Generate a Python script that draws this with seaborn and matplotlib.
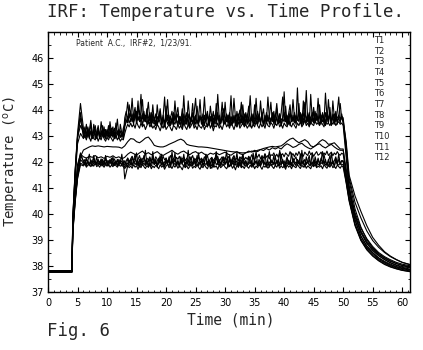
import matplotlib
matplotlib.use("Agg")
import matplotlib.pyplot as plt
from matplotlib.ticker import MultipleLocator
import pandas as pd
import seaborn as sns

# Sample clocks (minutes): warm-up, treatment plateau, cool-down
heat_minutes = [0, 4.05, 4.2, 4.6, 5.0, 5.5]
cool_minutes = [50.0, 50.5, 51.0, 52.0, 53.0, 54.0, 55.0, 56.0, 57.0, 58.0, 59.0, 60.0, 61.3]
# fast-logging probes: one reading every 15 s on the plateau
fine_plateau_minutes = [
    6.0, 6.25, 6.5, 6.75, 7.0, 7.25, 7.5, 7.75, 8.0, 8.25, 8.5, 8.75, 9.0, 9.25, 9.5, 9.75,
    10.0, 10.25, 10.5, 10.75, 11.0, 11.25, 11.5, 11.75, 12.0, 12.25, 12.5, 12.75, 13.0, 13.25, 13.5, 13.75,
    14.0, 14.25, 14.5, 14.75, 15.0, 15.25, 15.5, 15.75, 16.0, 16.25, 16.5, 16.75, 17.0, 17.25, 17.5, 17.75,
    18.0, 18.25, 18.5, 18.75, 19.0, 19.25, 19.5, 19.75, 20.0, 20.25, 20.5, 20.75, 21.0, 21.25, 21.5, 21.75,
    22.0, 22.25, 22.5, 22.75, 23.0, 23.25, 23.5, 23.75, 24.0, 24.25, 24.5, 24.75, 25.0, 25.25, 25.5, 25.75,
    26.0, 26.25, 26.5, 26.75, 27.0, 27.25, 27.5, 27.75, 28.0, 28.25, 28.5, 28.75, 29.0, 29.25, 29.5, 29.75,
    30.0, 30.25, 30.5, 30.75, 31.0, 31.25, 31.5, 31.75, 32.0, 32.25, 32.5, 32.75, 33.0, 33.25, 33.5, 33.75,
    34.0, 34.25, 34.5, 34.75, 35.0, 35.25, 35.5, 35.75, 36.0, 36.25, 36.5, 36.75, 37.0, 37.25, 37.5, 37.75,
    38.0, 38.25, 38.5, 38.75, 39.0, 39.25, 39.5, 39.75, 40.0, 40.25, 40.5, 40.75, 41.0, 41.25, 41.5, 41.75,
    42.0, 42.25, 42.5, 42.75, 43.0, 43.25, 43.5, 43.75, 44.0, 44.25, 44.5, 44.75, 45.0, 45.25, 45.5, 45.75,
    46.0, 46.25, 46.5, 46.75, 47.0, 47.25, 47.5, 47.75, 48.0, 48.25, 48.5, 48.75, 49.0, 49.25, 49.5, 49.75,
]
# slow-logging probes: one reading every 30 s on the plateau
coarse_plateau_minutes = [
    6.0, 6.5, 7.0, 7.5, 8.0, 8.5, 9.0, 9.5, 10.0, 10.5, 11.0,
    11.5, 12.0, 12.5, 13.0, 13.5, 14.0, 14.5, 15.0, 15.5, 16.0, 16.5,
    17.0, 17.5, 18.0, 18.5, 19.0, 19.5, 20.0, 20.5, 21.0, 21.5, 22.0,
    22.5, 23.0, 23.5, 24.0, 24.5, 25.0, 25.5, 26.0, 26.5, 27.0, 27.5,
    28.0, 28.5, 29.0, 29.5, 30.0, 30.5, 31.0, 31.5, 32.0, 32.5, 33.0,
    33.5, 34.0, 34.5, 35.0, 35.5, 36.0, 36.5, 37.0, 37.5, 38.0, 38.5,
    39.0, 39.5, 40.0, 40.5, 41.0, 41.5, 42.0, 42.5, 43.0, 43.5, 44.0,
    44.5, 45.0, 45.5, 46.0, 46.5, 47.0, 47.5, 48.0, 48.5, 49.0, 49.5,
]
fine_minutes = heat_minutes + fine_plateau_minutes + cool_minutes
coarse_minutes = heat_minutes + coarse_plateau_minutes + cool_minutes

# Probe temperatures (deg C): warm-up row, plateau rows, cool-down row
T1 = [37.80, 37.80, 39.90, 41.70, 43.10, 44.25,
      43.30, 43.05, 43.45, 42.95, 43.20, 43.60, 43.00, 43.25, 42.90, 43.15, 43.40, 42.95, 43.20, 43.05, 43.35, 42.90,
      43.25, 43.00, 43.55, 43.10, 42.95, 43.30, 43.05, 43.20, 42.90, 43.45, 43.10, 43.00, 43.70, 43.95, 43.55, 44.20,
      43.75, 44.45, 43.60, 43.90, 43.50, 44.10, 43.80, 44.60, 43.65, 43.95, 43.55, 43.85, 44.30, 43.60, 43.90, 43.50,
      43.70, 43.40, 44.20, 43.65, 43.85, 43.45, 43.75, 44.50, 43.55, 43.80, 43.40, 43.70, 43.95, 43.50, 44.35, 43.65,
      43.85, 43.45, 43.70, 43.55, 44.55, 43.60, 43.90, 43.40, 43.75, 43.60, 44.25, 43.50, 43.80, 43.45, 43.70, 44.40,
      43.55, 43.85, 43.40, 43.70, 43.95, 43.50, 44.15, 43.65, 43.35, 43.80, 43.55, 44.60, 43.70, 43.45, 43.90, 43.60,
      44.30, 43.55, 43.80, 43.40, 43.75, 43.60, 44.45, 43.70, 43.50, 43.85, 43.40, 43.70, 44.20, 43.55, 43.90, 43.45,
      43.75, 44.55, 43.60, 43.85, 43.45, 43.70, 43.95, 43.55, 44.35, 43.65, 43.40, 43.80, 43.60, 44.50, 43.70, 43.50,
      43.90, 43.45, 43.75, 44.25, 43.60, 43.85, 43.40, 43.70, 44.70, 43.55, 43.80, 43.45, 43.95, 43.60, 44.40, 43.70,
      43.50, 44.85, 43.65, 43.90, 43.45, 43.75, 44.30, 43.55, 43.85, 43.40, 44.60, 43.70, 43.50, 43.95, 43.60, 44.45,
      43.70, 43.45, 43.90, 43.55, 44.65, 43.75, 43.50, 43.85, 43.40, 44.35, 43.70, 43.55, 43.95, 44.50, 43.60, 43.75,
      43.70, 42.60, 41.30, 40.20, 39.50, 39.02, 38.70, 38.48, 38.32, 38.20, 38.10, 38.02, 37.95]
T2 = [37.78, 37.78, 39.80, 41.60, 43.00, 43.90,
      43.10, 43.35, 42.95, 43.25, 43.05, 43.50, 42.90, 43.20, 43.40, 43.00, 43.30, 42.95, 43.55, 43.10, 42.95, 43.25,
      43.05, 43.40, 42.95, 43.20, 43.35, 42.90, 43.15, 43.65, 43.00, 43.20, 42.95, 43.30, 43.45, 43.80, 44.30, 43.70,
      43.95, 43.55, 43.85, 44.10, 43.50, 43.75, 43.60, 43.95, 44.40, 43.55, 43.80, 43.45, 43.70, 43.90, 43.50, 44.20,
      43.55, 43.85, 43.45, 43.70, 44.05, 43.50, 43.80, 43.35, 43.65, 44.40, 43.55, 43.75, 43.45, 43.90, 43.60, 43.80,
      44.10, 43.50, 43.75, 43.35, 43.85, 43.60, 43.45, 44.35, 43.70, 43.55, 43.90, 43.40, 43.65, 44.15, 43.55, 43.80,
      43.45, 43.70, 44.50, 43.60, 43.85, 43.40, 43.75, 43.55, 43.95, 43.45, 44.25, 43.65, 43.80, 43.50, 43.70, 44.05,
      43.60, 43.85, 43.45, 43.70, 44.55, 43.50, 43.80, 43.40, 43.95, 43.60, 43.75, 44.30, 43.55, 43.85, 43.45, 43.70,
      44.15, 43.55, 43.80, 43.40, 43.70, 44.45, 43.60, 43.85, 43.50, 43.75, 44.05, 43.45, 43.90, 43.60, 43.75, 44.30,
      43.55, 43.80, 43.45, 44.05, 43.70, 43.50, 43.90, 44.50, 43.60, 43.75, 43.40, 43.85, 44.20, 43.55, 43.80, 43.50,
      43.75, 43.60, 44.25, 43.50, 43.85, 43.45, 43.70, 44.75, 43.60, 43.90, 43.45, 43.75, 44.10, 43.55, 43.85, 43.50,
      44.20, 43.60, 43.80, 43.45, 43.90, 43.55, 44.40, 43.70, 43.50, 43.85, 43.60, 43.95, 43.45, 43.80, 44.25, 43.65,
      43.60, 42.80, 41.50, 40.70, 40.10, 39.55, 39.10, 38.80, 38.55, 38.38, 38.25, 38.14, 38.05]
T3 = [37.82, 37.82, 39.70, 41.50, 42.90, 43.70,
      42.95, 43.20, 43.05, 43.35, 42.90, 43.15, 43.00, 43.45, 43.10, 42.90, 43.25, 43.05, 42.95, 43.40, 43.00, 43.20,
      42.95, 43.15, 43.35, 43.00, 43.25, 42.90, 43.50, 43.05, 43.20, 42.95, 43.10, 42.90, 43.35, 43.60, 43.50, 43.85,
      43.55, 43.70, 43.45, 43.95, 43.65, 44.35, 43.55, 43.80, 43.40, 43.75, 43.60, 44.05, 43.50, 43.70, 43.35, 43.85,
      43.60, 43.40, 43.75, 43.55, 43.95, 43.45, 43.70, 43.35, 44.15, 43.60, 43.80, 43.45, 43.65, 43.40, 43.85, 43.55,
      43.40, 43.75, 43.60, 44.05, 43.45, 43.70, 43.55, 43.85, 43.35, 43.65, 43.50, 43.90, 44.45, 43.60, 43.45, 43.75,
      43.65, 43.40, 43.80, 43.55, 43.35, 43.70, 43.60, 43.85, 43.45, 43.70, 43.55, 43.90, 43.40, 43.65, 44.30, 43.55,
      43.45, 43.70, 43.55, 43.90, 43.40, 43.65, 43.50, 43.80, 43.35, 43.70, 44.00, 43.50, 43.75, 43.40, 43.65, 43.85,
      43.50, 43.35, 43.70, 43.55, 44.20, 43.60, 43.45, 43.75, 43.50, 43.90, 43.40, 43.65, 43.55, 43.80, 43.45, 43.70,
      43.60, 43.95, 43.45, 43.70, 43.50, 43.85, 43.40, 43.65, 43.55, 44.15, 43.50, 43.75, 43.40, 43.70, 43.55, 43.90,
      43.45, 43.70, 43.55, 43.85, 43.40, 44.35, 43.65, 43.50, 43.80, 43.45, 43.70, 43.55, 43.95, 43.50, 43.75, 43.60,
      43.45, 43.80, 43.55, 43.70, 43.40, 43.90, 43.60, 44.10, 43.50, 43.75, 43.45, 43.85, 43.55, 43.70, 43.50, 43.85,
      43.55, 42.40, 41.10, 39.95, 39.30, 38.88, 38.60, 38.40, 38.25, 38.12, 38.02, 37.95, 37.88]
T4 = [37.80, 37.80, 39.85, 41.65, 42.95, 43.40,
      43.15, 42.95, 43.10, 43.30, 43.00, 43.20, 42.90, 43.05, 43.25, 43.00, 43.15, 42.90, 43.10, 43.25, 42.95, 43.10,
      43.20, 42.95, 43.05, 43.30, 43.00, 43.15, 42.90, 43.10, 43.25, 42.95, 43.05, 43.15, 43.40, 43.55, 43.75, 43.50,
      43.65, 43.85, 43.55, 43.70, 43.95, 43.60, 43.75, 43.50, 43.85, 43.65, 43.55, 43.80, 43.60, 43.45, 43.75, 43.55,
      43.45, 43.60, 43.40, 43.70, 43.50, 43.35, 43.65, 43.55, 43.75, 43.45, 43.60, 43.40, 43.70, 43.55, 43.45, 43.65,
      43.50, 43.65, 43.40, 43.75, 43.55, 43.45, 43.70, 43.60, 43.40, 43.65, 43.55, 43.75, 43.45, 43.60, 43.50, 43.70,
      43.60, 43.45, 43.70, 43.55, 43.80, 43.50, 43.65, 43.40, 43.70, 43.55, 43.45, 43.75, 43.60, 43.50, 43.70, 43.45,
      43.65, 43.55, 43.80, 43.50, 43.70, 43.45, 43.75, 43.60, 43.50, 43.80, 43.55, 43.70, 43.45, 43.65, 43.80, 43.55,
      43.70, 43.50, 43.85, 43.60, 43.55, 43.75, 43.45, 43.70, 43.60, 43.85, 43.50, 43.65, 43.75, 43.55, 43.70, 43.60,
      43.75, 43.55, 43.85, 43.65, 43.50, 43.80, 43.60, 43.70, 43.90, 43.55, 43.75, 43.65, 43.85, 43.60, 43.70, 43.55,
      43.80, 43.65, 43.90, 43.55, 43.75, 43.60, 43.85, 43.70, 43.55, 43.80, 43.65, 43.90, 43.60, 43.75, 43.85, 43.65,
      43.75, 43.60, 43.85, 43.70, 43.55, 43.80, 43.65, 43.90, 43.60, 43.75, 43.85, 43.60, 43.70, 43.80, 43.65, 43.75,
      43.50, 42.70, 41.40, 40.45, 39.85, 39.35, 38.98, 38.72, 38.52, 38.36, 38.24, 38.14, 38.06]
T5 = [37.76, 37.76, 39.60, 41.40, 42.70, 43.10,
      42.90, 43.00, 42.85, 43.10, 42.95, 42.80, 43.05, 42.90, 42.85, 43.00, 42.80, 42.95, 42.85, 43.05, 42.90, 42.80,
      42.95, 42.85, 43.00, 42.90, 42.80, 42.95, 43.05, 42.85, 42.95, 42.80, 42.90, 42.85, 43.10, 43.30, 43.45, 43.35,
      43.50, 43.35, 43.45, 43.30, 43.55, 43.40, 43.30, 43.50, 43.35, 43.45, 43.25, 43.40, 43.55, 43.35, 43.45, 43.30,
      43.40, 43.25, 43.45, 43.35, 43.20, 43.40, 43.30, 43.50, 43.25, 43.35, 43.45, 43.30, 43.20, 43.40, 43.35, 43.25,
      43.45, 43.30, 43.40, 43.25, 43.50, 43.35, 43.25, 43.45, 43.30, 43.40, 43.55, 43.30, 43.40, 43.25, 43.45, 43.35,
      43.30, 43.45, 43.25, 43.40, 43.35, 43.55, 43.30, 43.45, 43.20, 43.40, 43.35, 43.50, 43.30, 43.40, 43.25, 43.45,
      43.55, 43.35, 43.45, 43.30, 43.50, 43.40, 43.25, 43.45, 43.35, 43.55, 43.30, 43.40, 43.50, 43.35, 43.45, 43.30,
      43.40, 43.50, 43.30, 43.45, 43.35, 43.55, 43.40, 43.30, 43.50, 43.35, 43.45, 43.30, 43.55, 43.40, 43.35, 43.50,
      43.45, 43.30, 43.50, 43.40, 43.55, 43.35, 43.45, 43.30, 43.50, 43.40, 43.35, 43.55, 43.45, 43.35, 43.50, 43.40,
      43.30, 43.50, 43.40, 43.55, 43.35, 43.45, 43.60, 43.40, 43.50, 43.35, 43.55, 43.45, 43.40, 43.60, 43.45, 43.50,
      43.40, 43.55, 43.45, 43.35, 43.60, 43.45, 43.50, 43.40, 43.55, 43.45, 43.60, 43.40, 43.50, 43.55, 43.45, 43.50,
      43.40, 42.20, 40.90, 39.80, 39.15, 38.76, 38.50, 38.30, 38.15, 38.04, 37.96, 37.90, 37.84]
T6 = [37.80, 37.80, 39.40, 40.60, 41.50, 42.20,
      42.46, 42.52, 42.58, 42.62, 42.60, 42.62, 42.60, 42.58, 42.60, 42.59, 42.58,
      42.58, 42.57, 42.53, 42.62, 42.78, 42.90, 42.88, 42.78, 42.74, 42.82, 42.92,
      42.96, 42.82, 42.64, 42.60, 42.58, 42.58, 42.62, 42.68, 42.73, 42.78, 42.84,
      42.88, 42.82, 42.68, 42.64, 42.62, 42.60, 42.58, 42.58, 42.57, 42.56, 42.54,
      42.52, 42.50, 42.48, 42.46, 42.44, 42.42, 42.40, 42.39, 42.38, 42.36, 42.35,
      42.36, 42.38, 42.42, 42.40, 42.45, 42.48, 42.52, 42.55, 42.58, 42.60, 42.58,
      42.60, 42.62, 42.70, 42.80, 42.88, 42.92, 42.82, 42.74, 42.80, 42.86, 42.78,
      42.62, 42.58, 42.66, 42.78, 42.86, 42.80, 42.68, 42.70, 42.74, 42.62, 42.50,
      42.50, 41.50, 40.70, 39.75, 39.15, 38.78, 38.52, 38.32, 38.18, 38.07, 37.98, 37.92, 37.86]
T7 = [37.78, 37.78, 39.50, 40.90, 41.90, 42.30,
      42.20, 42.15, 42.22, 42.18, 42.25, 42.16, 42.20, 42.14, 42.22, 42.18, 42.24,
      42.16, 42.20, 42.12, 42.18, 42.30, 42.38, 42.32, 42.26, 42.35, 42.42, 42.30,
      42.36, 42.28, 42.34, 42.40, 42.30, 42.25, 42.32, 42.38, 42.45, 42.36, 42.30,
      42.38, 42.42, 42.34, 42.28, 42.36, 42.40, 42.32, 42.38, 42.30, 42.26, 42.34,
      42.30, 42.36, 42.28, 42.33, 42.38, 42.30, 42.26, 42.34, 42.40, 42.32, 42.28,
      42.35, 42.42, 42.38, 42.45, 42.40, 42.48, 42.44, 42.52, 42.46, 42.55, 42.50,
      42.56, 42.50, 42.62, 42.70, 42.64, 42.56, 42.60, 42.68, 42.72, 42.62, 42.55,
      42.50, 42.58, 42.66, 42.70, 42.60, 42.54, 42.62, 42.68, 42.58, 42.50, 42.45,
      42.45, 41.75, 41.00, 40.05, 39.45, 39.05, 38.75, 38.52, 38.36, 38.24, 38.14, 38.07, 38.01]
T8 = [37.80, 37.80, 39.30, 40.50, 41.40, 42.10,
      41.95, 42.10, 41.90, 42.05, 42.30, 41.95, 41.85, 42.05, 41.95, 42.20, 41.90, 42.00, 41.85, 42.10, 41.95, 42.25,
      41.90, 42.05, 41.95, 42.15, 41.85, 42.00, 41.90, 42.10, 41.95, 42.00, 41.85, 42.05, 41.35, 41.60, 41.85, 42.05,
      41.90, 42.20, 41.95, 42.05, 42.35, 41.90, 42.10, 41.85, 42.00, 42.25, 41.90, 42.05, 41.80, 42.15, 41.95, 42.40,
      41.90, 42.05, 41.80, 42.15, 41.95, 42.30, 41.85, 42.00, 42.10, 41.90, 42.20, 41.80, 42.05, 41.95, 42.35, 41.90,
      42.05, 41.85, 42.20, 41.95, 42.10, 41.80, 42.00, 42.45, 41.90, 42.05, 41.85, 42.15, 41.95, 42.25, 41.85, 42.00,
      41.80, 42.10, 41.95, 42.30, 41.90, 42.05, 41.75, 42.15, 41.95, 42.05, 42.40, 41.90, 42.10, 41.85, 42.00, 42.20,
      41.90, 42.05, 41.80, 42.25, 41.95, 42.10, 41.85, 42.00, 42.35, 41.90, 42.05, 41.80, 42.15, 41.95, 42.05, 41.85,
      42.20, 41.95, 42.05, 41.80, 42.10, 42.40, 41.90, 42.00, 41.85, 42.15, 41.95, 42.30, 41.90, 42.05, 41.80, 42.10,
      41.95, 42.25, 41.85, 42.05, 41.95, 42.45, 41.90, 42.10, 41.80, 42.00, 42.20, 41.90, 42.05, 41.85, 42.15, 42.00,
      41.85, 42.10, 41.95, 42.30, 41.90, 42.05, 41.80, 42.20, 41.95, 42.10, 41.85, 42.35, 41.95, 42.05, 41.80, 42.15,
      41.95, 42.05, 42.40, 41.90, 42.10, 41.85, 42.00, 42.25, 41.90, 42.05, 41.80, 42.15, 41.95, 42.30, 41.90, 42.05,
      42.00, 41.30, 40.60, 39.60, 39.00, 38.65, 38.40, 38.22, 38.08, 37.98, 37.90, 37.84, 37.78]
T9 = [37.82, 37.82, 39.50, 40.80, 41.80, 42.35,
      42.00, 41.90, 42.15, 41.95, 41.85, 42.05, 41.95, 42.25, 41.90, 42.00, 42.10, 41.90, 42.05, 41.95, 41.85, 42.15,
      41.95, 41.85, 42.05, 41.95, 42.20, 41.90, 42.00, 41.85, 42.10, 41.95, 42.30, 41.90, 42.05, 41.85, 42.15, 41.95,
      42.10, 41.85, 42.05, 42.30, 41.90, 42.00, 41.80, 42.15, 41.95, 42.05, 42.45, 41.90, 42.10, 41.85, 42.00, 42.20,
      41.95, 42.10, 41.85, 42.05, 42.25, 41.90, 42.00, 41.80, 42.15, 41.95, 42.05, 41.85, 42.40, 41.95, 42.10, 41.90,
      42.05, 41.80, 42.15, 41.95, 42.30, 41.90, 42.05, 41.85, 42.00, 42.20, 41.90, 42.10, 41.85, 42.05, 42.35, 41.95,
      42.10, 41.90, 42.00, 42.25, 41.85, 42.05, 41.95, 42.15, 41.80, 42.00, 42.30, 41.95, 42.05, 41.85, 42.15, 41.95,
      42.05, 42.40, 41.90, 42.10, 41.85, 42.00, 42.20, 41.95, 42.05, 41.80, 42.15, 41.95, 42.30, 41.90, 42.05, 41.85,
      42.00, 42.15, 41.90, 42.35, 41.95, 42.05, 41.85, 42.10, 41.95, 42.25, 41.90, 42.00, 41.80, 42.15, 42.40, 41.95,
      42.05, 41.90, 42.20, 41.95, 42.10, 41.85, 42.30, 41.95, 42.05, 41.80, 42.15, 42.00, 41.90, 42.35, 41.95, 42.10,
      42.20, 41.95, 42.05, 41.85, 42.45, 41.95, 42.10, 41.90, 42.05, 42.25, 41.90, 42.00, 41.85, 42.20, 41.95, 42.10,
      41.90, 42.15, 41.95, 42.30, 42.00, 41.90, 42.10, 41.85, 42.35, 41.95, 42.05, 42.20, 41.90, 42.10, 41.95, 42.05,
      42.05, 41.45, 40.85, 39.95, 39.35, 38.95, 38.66, 38.45, 38.30, 38.18, 38.09, 38.03, 37.98]
T10 = [37.78, 37.78, 39.35, 40.55, 41.45, 41.95,
       41.90, 41.98, 41.86, 42.04, 41.92, 42.00, 41.86, 41.96, 42.02, 41.88, 41.96, 41.90, 42.05, 41.88, 41.98, 41.92,
       41.86, 41.96, 42.02, 41.90, 41.98, 41.86, 42.04, 41.92, 41.88, 42.00, 41.90, 41.96, 41.80, 41.90, 41.96, 41.86,
       41.96, 41.88, 42.04, 41.90, 41.98, 41.84, 41.95, 42.06, 41.88, 41.96, 41.85, 42.00, 41.90, 41.96, 41.84, 42.02,
       41.90, 41.98, 41.86, 41.94, 42.05, 41.88, 41.96, 41.84, 42.00, 41.92, 41.86, 41.98, 42.06, 41.88, 41.95, 41.85,
       41.96, 41.88, 42.02, 41.90, 41.86, 41.98, 41.92, 42.05, 41.86, 41.95, 41.88, 42.00, 41.90, 41.84, 41.98, 41.92,
       42.04, 41.86, 41.96, 41.90, 42.02, 41.88, 41.95, 41.84, 41.98, 42.06, 41.90, 41.96, 41.86, 42.00, 41.92, 41.88,
       41.96, 42.04, 41.90, 41.86, 41.98, 41.92, 42.06, 41.88, 41.94, 41.84, 41.98, 41.90, 42.02, 41.86, 41.95, 41.90,
       41.92, 42.00, 41.86, 41.96, 41.90, 42.04, 41.88, 41.95, 41.85, 41.98, 42.05, 41.90, 41.96, 41.86, 42.00, 41.92,
       41.88, 41.98, 41.92, 42.04, 41.86, 41.95, 41.90, 42.02, 41.86, 41.96, 41.92, 42.06, 41.88, 41.98, 41.84, 41.94,
       42.00, 41.90, 41.96, 41.86, 42.04, 41.92, 41.88, 41.98, 42.02, 41.86, 41.95, 41.90, 42.05, 41.88, 41.96, 41.92,
       41.86, 41.98, 41.92, 42.02, 41.88, 41.96, 41.84, 42.00, 41.90, 41.96, 41.86, 42.04, 41.92, 41.88, 41.96, 41.90,
       41.90, 41.25, 40.55, 39.62, 39.05, 38.70, 38.45, 38.26, 38.12, 38.01, 37.93, 37.87, 37.81]
T11 = [37.80, 37.80, 39.45, 40.75, 41.70, 42.25,
       42.05, 41.95, 42.10, 42.00, 41.92, 42.08, 41.98, 42.15, 42.00, 41.94, 42.06, 41.98, 42.12, 41.96, 42.04, 41.92,
       42.06, 41.98, 42.10, 41.95, 42.02, 42.12, 41.96, 42.05, 41.92, 42.08, 42.00, 41.95, 41.90, 42.05, 42.15, 42.00,
       42.12, 42.22, 42.05, 42.15, 41.98, 42.10, 42.25, 42.02, 42.12, 42.18, 42.00, 42.15, 42.08, 42.20, 42.02, 42.12,
       42.05, 42.20, 42.10, 41.95, 42.15, 42.05, 42.22, 42.08, 42.15, 42.00, 42.12, 42.25, 42.05, 42.15, 42.02, 42.18,
       42.10, 42.22, 42.00, 42.12, 42.18, 42.05, 42.15, 42.02, 42.20, 42.10, 42.25, 42.05, 42.12, 42.00, 42.18, 42.08,
       42.15, 42.05, 42.20, 42.10, 42.25, 42.02, 42.12, 42.18, 42.05, 42.15, 42.08, 42.22, 42.00, 42.12, 42.20, 42.05,
       42.18, 42.08, 42.22, 42.12, 42.02, 42.15, 42.25, 42.08, 42.15, 42.05, 42.20, 42.12, 42.28, 42.08, 42.18, 42.10,
       42.22, 42.12, 42.28, 42.15, 42.08, 42.25, 42.18, 42.30, 42.12, 42.22, 42.15, 42.32, 42.18, 42.25, 42.12, 42.28,
       42.25, 42.35, 42.20, 42.30, 42.18, 42.38, 42.25, 42.32, 42.20, 42.35, 42.28, 42.22, 42.40, 42.26, 42.32, 42.20,
       42.35, 42.25, 42.40, 42.28, 42.32, 42.22, 42.38, 42.30, 42.25, 42.42, 42.28, 42.35, 42.22, 42.32, 42.40, 42.26,
       42.30, 42.38, 42.25, 42.35, 42.28, 42.42, 42.25, 42.32, 42.38, 42.24, 42.35, 42.28, 42.40, 42.30, 42.26, 42.34,
       42.30, 41.60, 40.90, 39.90, 39.28, 38.88, 38.60, 38.40, 38.25, 38.13, 38.04, 37.98, 37.93]
T12 = [37.76, 37.76, 39.25, 40.45, 41.35, 41.90,
       41.85, 41.92, 41.80, 41.88, 41.95, 41.82, 41.90, 41.84, 41.96, 41.82, 41.88, 41.80, 41.92, 41.86, 41.80, 41.90,
       41.84, 41.92, 41.80, 41.88, 41.82, 41.94, 41.86, 41.80, 41.90, 41.84, 41.88, 41.82, 41.75, 41.82, 41.88, 41.78,
       41.85, 41.76, 41.90, 41.80, 41.86, 41.72, 41.88, 41.78, 41.92, 41.82, 41.75, 41.86, 41.80, 41.90, 41.74, 41.85,
       41.78, 41.88, 41.82, 41.74, 41.90, 41.80, 41.86, 41.72, 41.84, 41.92, 41.78, 41.85, 41.75, 41.88, 41.80, 41.90,
       41.76, 41.85, 41.80, 41.70, 41.88, 41.78, 41.86, 41.74, 41.82, 41.90, 41.76, 41.84, 41.78, 41.92, 41.80, 41.72,
       41.86, 41.78, 41.90, 41.80, 41.74, 41.88, 41.82, 41.76, 41.92, 41.80, 41.85, 41.72, 41.88, 41.78, 41.84, 41.90,
       41.80, 41.74, 41.86, 41.82, 41.90, 41.76, 41.85, 41.70, 41.88, 41.80, 41.92, 41.78, 41.84, 41.75, 41.88, 41.82,
       41.76, 41.88, 41.80, 41.92, 41.74, 41.85, 41.78, 41.90, 41.82, 41.72, 41.86, 41.80, 41.88, 41.76, 41.84, 41.90,
       41.82, 41.75, 41.88, 41.80, 41.92, 41.76, 41.86, 41.78, 41.84, 41.72, 41.90, 41.80, 41.86, 41.74, 41.88, 41.82,
       41.78, 41.90, 41.82, 41.75, 41.88, 41.80, 41.92, 41.76, 41.85, 41.80, 41.74, 41.88, 41.82, 41.90, 41.78, 41.84,
       41.80, 41.86, 41.74, 41.90, 41.82, 41.76, 41.88, 41.80, 41.92, 41.78, 41.84, 41.75, 41.88, 41.82, 41.76, 41.86,
       41.80, 41.20, 40.50, 39.55, 38.98, 38.62, 38.38, 38.20, 38.06, 37.96, 37.89, 37.83, 37.79]

probe_names = ["T1", "T2", "T3", "T4", "T5", "T6", "T7", "T8", "T9", "T10", "T11", "T12"]
probe_series = [T1, T2, T3, T4, T5, T6, T7, T8, T9, T10, T11, T12]
probe_clocks = [fine_minutes] * 5 + [coarse_minutes] * 2 + [fine_minutes] * 5
x_ticks = [0, 5, 10, 15, 20, 25, 30, 35, 40, 45, 50, 55, 60]
y_ticks = [37, 38, 39, 40, 41, 42, 43, 44, 45, 46]

frames = [pd.DataFrame({"minute": clock, "temp": vals, "probe": name})
          for name, clock, vals in zip(probe_names, probe_clocks, probe_series)]
df = pd.concat(frames, ignore_index=True)

sns.set_style("ticks", {"xtick.direction": "in", "ytick.direction": "in"})
plt.rcParams["font.family"] = ["DejaVu Sans"]

fig = plt.figure(figsize=(4.23, 3.5), dpi=100)
ax = fig.add_axes([0.1135, 0.1657, 0.8555, 0.7429])

sns.lineplot(data=df, x="minute", y="temp", hue="probe", hue_order=probe_names,
             palette=["black"] * len(probe_names), estimator=None, sort=False,
             linewidth=0.8, ax=ax)

ax.set_xlim(0, 61.3)
ax.set_ylim(37, 47)
ax.set_xticks(x_ticks)
ax.set_yticks(y_ticks)
ax.xaxis.set_minor_locator(MultipleLocator(1))
ax.yaxis.set_minor_locator(MultipleLocator(0.5))
ax.tick_params(which="both", direction="in", top=True, right=True,
               colors="black", labelsize=7)
ax.tick_params(which="major", length=3.5, width=0.8)
ax.tick_params(which="minor", length=1.8, width=0.6)
ax.tick_params(axis="x", pad=4)
ax.tick_params(axis="y", pad=3)
for sp in ax.spines.values():
    sp.set_visible(True)
    sp.set_color("black")
    sp.set_linewidth(1.0)

ax.set_xlabel("Time (min)", family="DejaVu Sans Mono", fontsize=10.5)
ax.set_ylabel("Temperature ($^{\\mathrm{o}}$C)", family="DejaVu Sans Mono", fontsize=10)
ax.xaxis.set_label_coords(0.505, -0.08)
ax.yaxis.set_label_coords(-0.075, 0.5)

handles, labels = ax.get_legend_handles_labels()
ax.legend(handles, labels, loc="upper left", bbox_to_anchor=(0.9, 0.985),
          frameon=False, handlelength=0, handletextpad=0, borderpad=0,
          borderaxespad=0, labelspacing=0.2, fontsize=6)

ax.text(0.077, 0.955, "Patient  A.C.,  IRF#2,  1/23/91.", transform=ax.transAxes,
        fontsize=5.5, va="center", ha="left")

fig.text(0.533, 0.966, "IRF: Temperature vs. Time Profile.", family="DejaVu Sans Mono",
         fontsize=12.5, ha="center", va="center")
fig.text(0.112, 0.055, "Fig. 6", family="DejaVu Sans Mono", fontsize=12.5,
         ha="left", va="center")

fig.savefig("out.png", dpi=100)
